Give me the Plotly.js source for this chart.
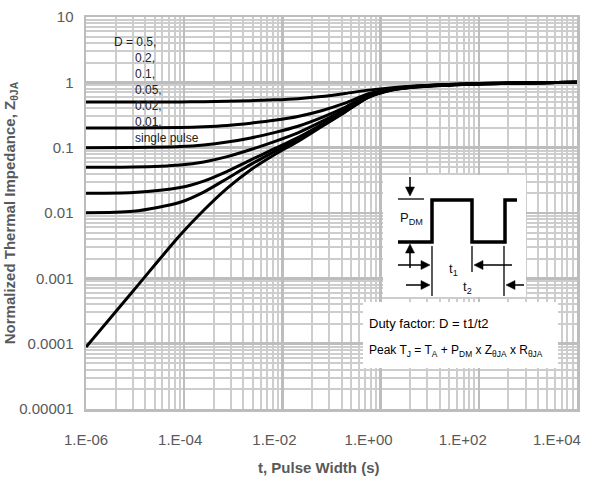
<!DOCTYPE html>
<html>
<head>
<meta charset="utf-8">
<script src="https://cdn.plot.ly/plotly-3.0.1.min.js"></script>
<style>html,body{margin:0;padding:0;background:#fff;}#chart{width:604px;height:478px;}</style>
</head>
<body>
<div id="chart"></div>
<script>
// Pulse width (s)
const pulseWidth = [1e-6, 1e-5, 1e-4, 3.16e-4, 1e-3, 3.16e-3, 1e-2, 3.16e-2, 0.1, 0.316, 1, 3.16, 10, 100, 1000, 1e4, 3e4];
// Normalized thermal impedance per duty factor
const zD05   = [0.5, 0.5003, 0.502, 0.506, 0.512, 0.523, 0.539, 0.563, 0.605, 0.675, 0.76, 0.83, 0.88, 0.945, 0.98, 0.99, 1.0];
const zD02   = [0.2, 0.2005, 0.2037, 0.209, 0.219, 0.237, 0.262, 0.3, 0.368, 0.48, 0.67, 0.80, 0.87, 0.94, 0.975, 0.99, 1.0];
const zD01   = [0.1, 0.1006, 0.104, 0.11, 0.122, 0.141, 0.17, 0.213, 0.289, 0.415, 0.63, 0.78, 0.865, 0.935, 0.975, 0.99, 1.0];
const zD005  = [0.0501, 0.0506, 0.0544, 0.0605, 0.0728, 0.0937, 0.124, 0.169, 0.25, 0.383, 0.61, 0.78, 0.86, 0.935, 0.97, 0.99, 1.0];
const zD002  = [0.0201, 0.0206, 0.0245, 0.0308, 0.0435, 0.065, 0.0964, 0.143, 0.226, 0.363, 0.60, 0.77, 0.855, 0.93, 0.97, 0.99, 1.0];
const zD001  = [0.0101, 0.0106, 0.0146, 0.0209, 0.0338, 0.0555, 0.0872, 0.134, 0.218, 0.357, 0.60, 0.77, 0.85, 0.93, 0.97, 0.99, 1.0];
const zSingle= [8.9e-5, 6.4e-4, 0.0046, 0.011, 0.024, 0.046, 0.078, 0.125, 0.21, 0.35, 0.59, 0.76, 0.85, 0.93, 0.97, 0.99, 1.0];

const seriesNames = ["D = 0.5", "0.2", "0.1", "0.05", "0.02", "0.01", "single pulse"];
const seriesValues = [zD05, zD02, zD01, zD005, zD002, zD001, zSingle];

const xTickVals = [1e-6, 1e-4, 1e-2, 1, 1e2, 1e4];
const xTickText = ["1.E-06", "1.E-04", "1.E-02", "1.E+00", "1.E+02", "1.E+04"];
const yTickVals = [1e-5, 1e-4, 1e-3, 1e-2, 0.1, 1, 10];
const yTickText = ["0.00001", "0.0001", "0.001", "0.01", "0.1", "1", "10"];
const legendLines = ["D = 0.5,", "0.2,", "0.1,", "0.05,", "0.02,", "0.01,", "single pulse"];

// plot area in pixels
const L = 86, R = 577, T = 17, B = 409;
const PX = p => (p - L) / (R - L);
const PY = p => (B - p) / (B - T);

const traces = seriesValues.map((v, i) => ({
  x: pulseWidth, y: v, name: seriesNames[i], type: 'scatter', mode: 'lines',
  line: {color: '#000', width: 3, shape: 'spline', smoothing: 0.8},
  xaxis: 'x', yaxis: 'y', showlegend: false, hoverinfo: 'skip'
}));

const gridMajor = '#bdbdbd', gridMinor = '#cdcdcd';

const shapes = [];
const annotations = [];
// white inset boxes
shapes.push({type: 'rect', xref: 'paper', yref: 'paper', x0: PX(383), x1: PX(526), y0: PY(297), y1: PY(175), fillcolor: '#fff', line: {width: 0}, layer: 'above'});
shapes.push({type: 'rect', xref: 'paper', yref: 'paper', x0: PX(363), x1: PX(558), y0: PY(368), y1: PY(302), fillcolor: '#fff', line: {width: 0}, layer: 'above'});
// pulse waveform
const wave = [[398,242],[432,242],[432,200],[472,200],[472,242],[505,242],[505,200],[517,200]];
shapes.push({type: 'path', xref: 'paper', yref: 'paper', layer: 'above',
  path: wave.map((p, i) => (i ? 'L' : 'M') + PX(p[0]) + ',' + PY(p[1])).join(' '),
  line: {color: '#000', width: 3.5}});
// thin reference lines
const thin = [[[398,199],[424,199]], [[432,246],[432,296]], [[472,246],[472,272]], [[504,246],[504,296]]];
thin.forEach(s => shapes.push({type: 'line', xref: 'paper', yref: 'paper', layer: 'above',
  x0: PX(s[0][0]), y0: PY(s[0][1]), x1: PX(s[1][0]), y1: PY(s[1][1]), line: {color: '#000', width: 1.3}}));
// arrows [tipX, tipY, tailX, tailY] drawn as line + filled head
const arrows = [[410,196,410,177],[410,244,410,268],[430,265,398,265],[474,265,512,265],[430,285,406,285],[506,285,524,285]];
arrows.forEach(a => {
  const dx = a[0] - a[2], dy = a[1] - a[3], len = Math.hypot(dx, dy);
  const ux = dx / len, uy = dy / len, hl = 9, hw = 4.5;
  const bx = a[0] - ux * hl, by = a[1] - uy * hl;
  shapes.push({type: 'line', xref: 'paper', yref: 'paper', layer: 'above',
    x0: PX(a[2]), y0: PY(a[3]), x1: PX(bx), y1: PY(by), line: {color: '#000', width: 1.5}});
  const p1 = [bx - uy * hw, by + ux * hw], p2 = [bx + uy * hw, by - ux * hw];
  shapes.push({type: 'path', xref: 'paper', yref: 'paper', layer: 'above',
    path: 'M' + PX(a[0]) + ',' + PY(a[1]) + ' L' + PX(p1[0]) + ',' + PY(p1[1]) + ' L' + PX(p2[0]) + ',' + PY(p2[1]) + ' Z',
    fillcolor: '#000', line: {color: '#000', width: 0.5}});
});

const diagFont = {family: 'Liberation Sans, Arial', size: 13, color: '#111'};
annotations.push({xref: 'paper', yref: 'paper', x: PX(398), y: PY(218), xanchor: 'left', yanchor: 'middle', text: 'P<sub>DM</sub>', showarrow: false, font: diagFont});
annotations.push({xref: 'paper', yref: 'paper', x: PX(453), y: PY(269), xanchor: 'center', yanchor: 'middle', text: 't<sub>1</sub>', showarrow: false, font: diagFont});
annotations.push({xref: 'paper', yref: 'paper', x: PX(467), y: PY(287), xanchor: 'center', yanchor: 'middle', text: 't<sub>2</sub>', showarrow: false, font: diagFont});
annotations.push({xref: 'paper', yref: 'paper', x: PX(367), y: PY(323), xanchor: 'left', yanchor: 'middle', text: 'Duty factor: D = t1/t2', showarrow: false,
  font: {family: 'Liberation Sans, Arial', size: 13, color: '#000'}});
annotations.push({xref: 'paper', yref: 'paper', x: PX(367), y: PY(351), xanchor: 'left', yanchor: 'middle', text: 'Peak T<sub>J</sub> = T<sub>A</sub> + P<sub>DM</sub> x Z<sub>θJA</sub> x R<sub>θJA</sub>', showarrow: false,
  font: {family: 'Liberation Sans, Arial', size: 12, color: '#000'}});

// legend text block
legendLines.forEach((s, i) => annotations.push({xref: 'paper', yref: 'paper',
  x: PX(i === 0 ? 112 : 133), y: PY(42 + i * 16), xanchor: 'left', yanchor: 'middle', text: s, showarrow: false,
  font: {family: 'Liberation Sans, Arial', size: 12, color: '#222'}}));

// x axis title
annotations.push({xref: 'paper', yref: 'paper', x: PX(319), y: PY(467), xanchor: 'center', yanchor: 'middle',
  text: '<b>t, Pulse Width (s)</b>', showarrow: false, font: {family: 'Liberation Sans, Arial', size: 15, color: '#595959'}});

const layout = {
  width: 604, height: 478,
  margin: {l: L, r: 604 - R, t: T, b: 478 - B},
  paper_bgcolor: '#fff', plot_bgcolor: '#fff',
  font: {family: 'Liberation Sans, Arial', color: '#595959', size: 15},
  showlegend: false,
  xaxis: {type: 'log', range: [-6, 4.425], tickvals: xTickVals, ticktext: xTickText,
    showgrid: false, zeroline: false, ticks: '', ticklabelstandoff: 20,
    tickfont: {size: 15, color: '#595959'}, showline: false},
  xaxis2: {type: 'log', range: [0, 5], overlaying: 'x', side: 'bottom', showticklabels: false, ticks: '',
    dtick: 1, showgrid: true, gridcolor: gridMajor, gridwidth: 2.5, zeroline: false,
    minor: {dtick: 'D1', showgrid: true, gridcolor: gridMinor, gridwidth: 2},
    showline: true, linecolor: gridMajor, linewidth: 2.5, mirror: true},
  yaxis: {type: 'log', range: [-5, 1], tickvals: yTickVals, ticktext: yTickText, dtick: 1,
    showgrid: true, gridcolor: gridMajor, gridwidth: 2.5, zeroline: false, ticks: '', ticklabelstandoff: 7,
    minor: {dtick: 'D1', showgrid: true, gridcolor: gridMinor, gridwidth: 2},
    tickfont: {size: 15, color: '#595959'},
    showline: true, linecolor: gridMajor, linewidth: 2.5, mirror: true,
    title: {text: '<b>Normalized Thermal Impedance, Z<sub>θJA</sub></b>', standoff: 0, font: {size: 15, color: '#595959'}}},
  shapes: shapes, annotations: annotations
};

traces.push({x: [], y: [], xaxis: 'x2', yaxis: 'y', type: 'scatter', mode: 'lines', showlegend: false, hoverinfo: 'skip'});

Plotly.newPlot('chart', traces, layout, {displayModeBar: false, staticPlot: true});
</script>
</body>
</html>
